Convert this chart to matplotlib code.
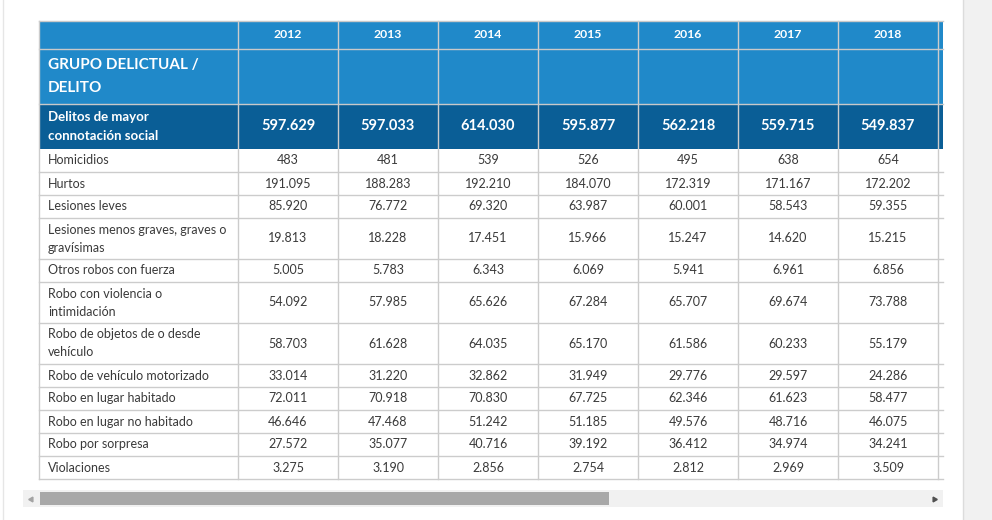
import matplotlib.pyplot as plt
from matplotlib.patches import Rectangle

plt.rcParams['font.family'] = ['Lato', 'DejaVu Sans']

years = ["2012", "2013", "2014", "2015", "2016", "2017", "2018"]
header_label = "GRUPO DELICTUAL /\nDELITO"
total_label = "Delitos de mayor\nconnotación social"
totals = [597629, 597033, 614030, 595877, 562218, 559715, 549837]

crimes = [
    "Homicidios",
    "Hurtos",
    "Lesiones leves",
    "Lesiones menos graves, graves o\ngravísimas",
    "Otros robos con fuerza",
    "Robo con violencia o\nintimidación",
    "Robo de objetos de o desde\nvehículo",
    "Robo de vehículo motorizado",
    "Robo en lugar habitado",
    "Robo en lugar no habitado",
    "Robo por sorpresa",
    "Violaciones",
]
homicidios = [483, 481, 539, 526, 495, 638, 654]
hurtos = [191095, 188283, 192210, 184070, 172319, 171167, 172202]
lesiones_leves = [85920, 76772, 69320, 63987, 60001, 58543, 59355]
lesiones_graves = [19813, 18228, 17451, 15966, 15247, 14620, 15215]
otros_robos = [5005, 5783, 6343, 6069, 5941, 6961, 6856]
robo_violencia = [54092, 57985, 65626, 67284, 65707, 69674, 73788]
robo_objetos = [58703, 61628, 64035, 65170, 61586, 60233, 55179]
robo_vehiculo = [33014, 31220, 32862, 31949, 29776, 29597, 24286]
robo_habitado = [72011, 70918, 70830, 67725, 62346, 61623, 58477]
robo_no_habitado = [46646, 47468, 51242, 51185, 49576, 48716, 46075]
robo_sorpresa = [27572, 35077, 40716, 39192, 36412, 34974, 34241]
violaciones = [3275, 3190, 2856, 2754, 2812, 2969, 3509]
values = [homicidios, hurtos, lesiones_leves, lesiones_graves, otros_robos,
          robo_violencia, robo_objetos, robo_vehiculo, robo_habitado,
          robo_no_habitado, robo_sorpresa, violaciones]

BLUE = "#2089c9"
DARK = "#0a5e96"
GRID = "#cccccc"
TEXT = "#3a3a3a"


def fmt(v):
    return f"{v:,}".replace(",", ".")


fig = plt.figure(figsize=(9.92, 5.2), dpi=100)
ax = fig.add_axes([0, 0, 1, 1])
ax.set_xlim(0, 992)
ax.set_ylim(520, 0)
ax.axis("off")

# page background / card
ax.add_patch(Rectangle((963, 0), 29, 520, color="#f1f1f1", lw=0))
ax.plot([963, 963], [0, 520], color="#dcdcdc", lw=1)
ax.plot([3, 3], [0, 520], color="#e6e6e6", lw=1)

x0, x_clip = 39, 943
first_w, col_w = 199, 100
col_x = [x0 + first_w + i * col_w for i in range(len(years) + 1)]

y_year, y_group, y_total = 21, 49, 104
h_year, h_group, h_total = 28, 55, 45

# header blocks
ax.add_patch(Rectangle((x0, y_year), x_clip - x0, h_year + h_group, color=BLUE, lw=0))
ax.add_patch(Rectangle((x0, y_total), x_clip - x0, h_total, color=DARK, lw=0))

# data rows
row_tops = []
y = y_total + h_total
for name in crimes:
    h = 23 + 18 * name.count("\n")
    row_tops.append((y, h))
    y += h
y_end = y

# grid lines
for yy in [y_year, y_group, y_total]:
    ax.plot([x0, x_clip], [yy, yy], color="#c9c9c9", lw=1)
for top, h in row_tops:
    ax.plot([x0, x_clip], [top + h, top + h], color=GRID, lw=1)
for xx in [x0] + col_x:
    if xx <= x_clip:
        ax.plot([xx, xx], [y_year, y_end], color=GRID, lw=1)

# header text
for i, yr in enumerate(years):
    cx = col_x[i] + col_w / 2
    ax.text(cx, y_year + h_year / 2, yr, color="white", fontsize=8.8,
            fontweight="bold", ha="center", va="center")
    ax.text(cx, y_total + h_total / 2, fmt(totals[i]), color="white",
            fontsize=10.5, fontweight="bold", ha="center", va="center")
ax.text(48, y_group + h_group / 2, header_label, color="white", fontsize=11,
        fontweight="bold", ha="left", va="center", linespacing=1.8)
ax.text(48, y_total + h_total / 2, total_label, color="white", fontsize=9.5,
        fontweight="bold", ha="left", va="center", linespacing=1.7)

for (top, h), name, vals in zip(row_tops, crimes, values):
    cy = top + h / 2
    ax.text(48, cy, name, color=TEXT, fontsize=9, ha="left", va="center",
            linespacing=1.6)
    for i, v in enumerate(vals):
        ax.text(col_x[i] + col_w / 2, cy, fmt(v), color=TEXT, fontsize=9,
                ha="center", va="center")

# horizontal scrollbar
ax.add_patch(Rectangle((23, 490), 920, 17, color="#f1f1f1", lw=0))
ax.add_patch(Rectangle((40, 492), 569, 13, color="#a8a8a8", lw=0))
ax.plot([31], [498.5], marker=(3, 0, 90), color="#a3a3a3", ms=4)
ax.plot([934], [498.5], marker=(3, 0, -90), color="#505050", ms=4)

fig.savefig("out.png", dpi=100)
